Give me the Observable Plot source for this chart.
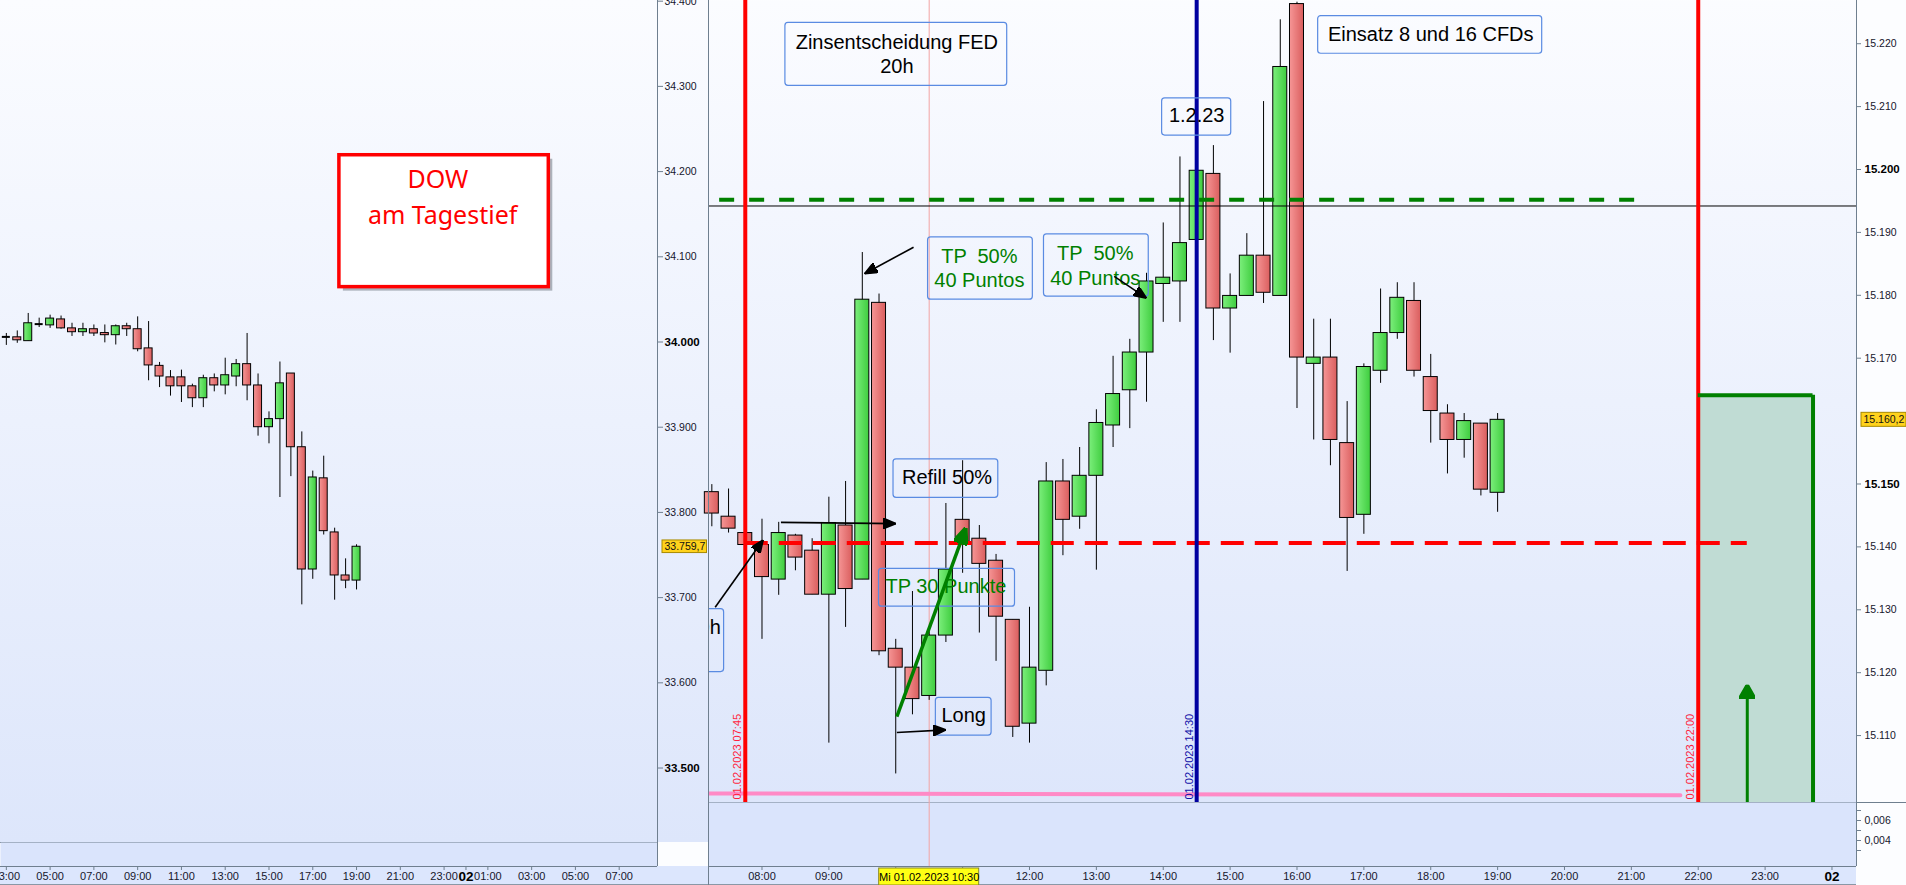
<!DOCTYPE html>
<html><head><meta charset="utf-8">
<script src="https://cdn.jsdelivr.net/npm/d3@7"></script>
<script src="https://cdn.jsdelivr.net/npm/@observablehq/plot@0.6"></script>
<style>
html,body{margin:0;padding:0;}
body{width:1906px;height:885px;position:relative;overflow:hidden;background:#fcfdff;}
.abs{position:absolute;}
.abs svg{display:block;}
</style></head>
<body>
<svg width="0" height="0" style="position:absolute">
 <defs>
  <linearGradient id="gUp" x1="0" y1="0" x2="1" y2="0"><stop offset="0" stop-color="#7cef7c"/><stop offset="1" stop-color="#3fcd3f"/></linearGradient>
  <linearGradient id="gDn" x1="0" y1="0" x2="1" y2="0"><stop offset="0" stop-color="#f69696"/><stop offset="1" stop-color="#da5e5e"/></linearGradient>
  <linearGradient id="gBg" x1="0" y1="0" x2="0" y2="1"><stop offset="0" stop-color="#fbfcff"/><stop offset="1" stop-color="#dde6fb"/></linearGradient>
 </defs>
</svg>
<div class="abs" style="left:0;top:0;width:708px;height:842px;background:linear-gradient(#fbfcff,#dde6fb)"></div>
<div class="abs" style="left:0;top:866px;width:1856px;height:18px;background:#dce6fd;border-bottom:1px solid #8a98a6"></div>
<div id="Lmain" class="abs" style="left:0;top:0;width:708px"></div>
<div id="Lsub" class="abs" style="left:0;top:842px;width:708px"></div>
<div id="Rmain" class="abs" style="left:708px;top:0;width:1198px"></div>
<div id="Rsub" class="abs" style="left:708px;top:802px;width:1198px"></div>
<script>
// ---------------- DATA ----------------
// DOW (left panel) – 30 minute candles, 1 Feb 2023
const dowTime  = ["03:00","03:30","04:00","04:30","05:00","05:30","06:00","06:30","07:00","07:30","08:00","08:30","09:00","09:30","10:00","10:30","11:00","11:30","12:00","12:30","13:00","13:30","14:00","14:30","15:00","15:30","16:00","16:30","17:00","17:30","18:00","18:30","19:00"];
const dowOpen  = [34006,34005.5,34001,34021,34019.5,34026.5,34016,34011.5,34015,34010.5,34008,34018.5,34015,33992.5,33972,33958.5,33958.5,33948,33934,33957.5,33949,33959.5,33974,33949,33900,33909.5,33963,33876.5,33733,33840,33776.5,33726,33720];
const dowHigh  = [34010,34013,34033.5,34028,34031.5,34030.5,34022,34022,34020,34020,34020,34022,34029.5,34024,33976,33966.5,33967,33950.5,33961,33962.5,33981,33979.5,34010,33962.5,33918,33976.5,33963,33894.5,33848.5,33866,33781.5,33745.5,33762];
const dowLow   = [33996,33998.5,34001,34017,34016,34015,34006.5,34006.5,34006.5,33999,33996.5,34006.5,33988.5,33954.5,33946.5,33936.5,33929,33923,33923,33941.5,33938,33947.5,33931,33889.5,33880.5,33817.5,33842,33691.5,33721.5,33773.5,33697,33710.5,33709];
const dowClose = [34006,34002,34022,34021,34027.5,34016,34011.5,34015,34010,34008,34018.5,34015,33991.5,33972.5,33959.5,33948,33948,33934,33957.5,33949,33961,33974,33949,33900,33909.5,33951.5,33876.5,33733,33841,33778,33726,33720,33759.7];
const dowLast = 33759.7;
const dowTicks = [33500,33600,33700,33800,33900,34000,34100,34200,34300,34400];
const dowBold  = [33500,34000];
const dowHours = ["03:00","05:00","07:00","09:00","11:00","13:00","15:00","17:00","19:00","21:00","23:00","02 01:00","02 03:00","02 05:00","02 07:00"];
const dowNoteBox  = ["18:13","02 03:47",34219.2,34064.4];
const dowNoteText = [["22:43",34189.9,"DOW"],["22:56",34147.3,"am Tagestief"]];

// DAX (right panel) – 15 minute candles, 1 Feb 2023
const daxTime  = ["07:15","07:30","07:45","08:00","08:15","08:30","08:45","09:00","09:15","09:30","09:45","10:00","10:15","10:30","10:45","11:00","11:15","11:30","11:45","12:00","12:15","12:30","12:45","13:00","13:15","13:30","13:45","14:00","14:15","14:30","14:45","15:00","15:15","15:30","15:45","16:00","16:15","16:30","16:45","17:00","17:15","17:30","17:45","18:00","18:15","18:30","18:45","19:00"];
const daxOpen  = [15148.7,15144.8,15142.2,15140.3,15134.8,15141.8,15139.4,15132.4,15143.4,15134.8,15178.8,15123.8,15120.8,15116.3,15125.9,15144.3,15141.3,15137.8,15128.4,15111.9,15120.3,15150.4,15144.8,15151.3,15159.3,15164.9,15170.9,15181.8,15182.2,15188.8,15199.3,15177.9,15179.9,15186.3,15179.9,15226.3,15169.1,15170.1,15156.5,15145.1,15168.0,15174.0,15179.1,15167.0,15161.2,15157.0,15159.6,15148.6];
const daxHigh  = [15149.9,15149.2,15142.6,15144.4,15143.9,15142.0,15141.3,15147.9,15150.4,15186.8,15180.2,15125.3,15132.9,15126.5,15146.9,15153.7,15143.4,15138.8,15128.4,15130.4,15153.4,15153.9,15155.8,15161.8,15170.3,15173.0,15183.5,15191.5,15202.0,15200.2,15203.8,15183.4,15189.8,15210.8,15223.8,15226.6,15176.2,15176.2,15163.1,15169.1,15181.0,15182.0,15182.0,15170.6,15162.6,15161.2,15159.6,15161.2];
const daxLow   = [15143.2,15142.2,15140.1,15125.3,15132.3,15136.2,15132.4,15108.8,15127.2,15134.8,15122.7,15103.9,15113.3,15115.6,15124.8,15135.8,15126.3,15121.8,15109.7,15108.8,15117.9,15138.6,15142.8,15136.3,15155.8,15158.8,15163.0,15175.7,15175.7,15188.5,15172.8,15170.8,15179.9,15178.7,15179.9,15162.0,15157.0,15152.9,15136.1,15142.0,15166.0,15173.0,15167.0,15156.5,15151.6,15154.1,15148.1,15145.5];
const daxClose = [15145.3,15142.9,15140.3,15135.2,15142.2,15138.3,15132.4,15143.8,15133.3,15179.3,15123.4,15120.8,15115.8,15125.9,15136.4,15140.8,15137.3,15128.9,15111.4,15120.8,15150.4,15144.3,15151.3,15159.7,15164.3,15170.9,15182.2,15182.8,15188.3,15199.8,15177.9,15179.9,15186.3,15180.4,15216.3,15170.1,15170.1,15157.0,15144.6,15168.6,15174.0,15179.6,15168.0,15161.6,15157.0,15160.0,15149.1,15160.2];
const daxLast = 15160.2;
const daxTicks = [15110,15120,15130,15140,15150,15170,15180,15190,15200,15210,15220];
const daxBold  = [15150,15200];
const daxHours = ["08:00","09:00","12:00","13:00","14:00","15:00","16:00","17:00","18:00","19:00","20:00","21:00","22:00","23:00"];
const daxHiddenHours = ["10:00","11:00"];
const subTicks  = [0.003,0.004,0.005,0.006,0.007];
const subLabels = [0.004,0.006];
const dayMark = "02 00:00";
const dayLabel = "01.02.2023";
const cursorTime = "10:30";
const cursorLabel = "Mi 01.02.2023 10:30";

// annotations (time, price)
const redLines  = ["07:45","22:00"];
const blueLines = ["14:30"];
const blackLevel = 15194.2;
const greenLevel = [15195.2,"07:22","21:03"];
const redLevel   = [15140.6,"07:45","22:44"];
const pinkLine   = [["07:12",15100.8],["21:44",15100.5]];
const tpZone     = ["22:00","23:43",15164.1];
const noteBoxes  = [
  ["08:21","11:40",15223.3,15213.3],
  ["13:59","15:01",15211.3,15205.4],
  ["10:29","12:03",15189.2,15179.3],
  ["12:13","13:47",15189.7,15179.8],
  ["16:19","19:40",15224.4,15218.4],
  ["09:58","11:32",15153.9,15147.8],
  ["09:45","11:47",15136.5,15130.5],
  ["10:36","11:26",15116.0,15110.0],
  ["06:30","07:26",15130.1,15120.1]
];
const blackNotes = [
  ["10:01",15220.1,"Zinsentscheidung FED"],
  ["10:01",15216.3,"20h"],
  ["14:30",15208.5,"1.2.23"],
  ["18:00",15221.5,"Einsatz 8 und 16 CFDs"],
  ["10:46",15151.0,"Refill 50%"],
  ["11:01",15113.15,"Long"]
];
const greenNotes = [
  ["11:15",15186.2,"TP  50%"],["11:15",15182.3,"40 Puntos"],
  ["12:59",15186.7,"TP  50%"],["12:59",15182.7,"40 Puntos"],
  ["10:45",15133.7,"TP 30 Punkte"]
];
const clippedNote = [["07:23",15127.2,"20h"]];
const blackArrows = [
  ["10:16",15187.65,"09:32",15183.42],
  ["13:16",15183.0,"13:45",15179.54],
  ["07:18",15130.4,"08:01",15141.1],
  ["08:17",15143.9,"10:00",15143.7],
  ["10:01",15110.5,"10:45",15110.9]
];
const greenArrow = [["10:01",15113.0,"11:02",15142.6]];
const tpArrow    = [["22:44",15099.4,"22:44",15118.1]];

// ---------------- HELPERS ----------------
const F = "'Liberation Sans', Arial, Helvetica, sans-serif";
const FN = "'Noto Sans', 'Open Sans', sans-serif";
const T = (s) => { const p = s.trim().split(" "); const day = p.length > 1 ? +p[0] : 1; const [h, m] = p[p.length - 1].split(":").map(Number); return new Date(2023, 1, day, h, m); };
const de = d3.formatLocale({decimal: ",", thousands: ".", grouping: [3], currency: ["", ""]});
const fmtInt = de.format(",.0f"), fmt1 = de.format(",.1f"), fmt3 = de.format(",.3f");
const fmtHM = d3.timeFormat("%H:%M");
const STYLE = {background: "transparent", overflow: "visible", maxWidth: "none"};
const AX = "#6f7f8f", TXT = "#16162c";

function head(len, wid, back) {
  return (color, context) => {
    const doc = (context && context.document) || document;
    const ns = "http://www.w3.org/2000/svg";
    const m = doc.createElementNS(ns, "marker");
    m.setAttribute("viewBox", `0 ${-wid / 2} ${len} ${wid}`);
    m.setAttribute("markerWidth", len);
    m.setAttribute("markerHeight", wid);
    m.setAttribute("markerUnits", "userSpaceOnUse");
    m.setAttribute("refX", len - back);
    m.setAttribute("refY", 0);
    m.setAttribute("orient", "auto");
    const p = doc.createElementNS(ns, "path");
    p.setAttribute("d", `M0,${-wid / 2}L${len},0L0,${wid / 2}Z`);
    p.setAttribute("fill", color);
    m.appendChild(p);
    return m;
  };
}
function arrows(data, opts, len, wid, back) {
  const base = {x1: d => T(d[0]), y1: d => d[1], x2: d => T(d[2]), y2: d => d[3], ...opts};
  try { return Plot.link(data, {...base, markerEnd: head(len, wid, back)}); }
  catch (e) { return Plot.arrow(data, {...base, headLength: len}); }
}
function candleMarks(rows, hw) {
  const x1 = d => new Date(+d.t - hw), x2 = d => new Date(+d.t + hw);
  return [
    Plot.ruleX(rows, {x: "t", y1: "l", y2: "h", stroke: "#000", strokeWidth: 1}),
    Plot.rect(rows.filter(d => d.c > d.o), {x1, x2, y1: "o", y2: "c", fill: "url(#gUp)", stroke: "#000", strokeWidth: 1}),
    Plot.rect(rows.filter(d => d.c < d.o), {x1, x2, y1: "o", y2: "c", fill: "url(#gDn)", stroke: "#000", strokeWidth: 1}),
    Plot.ruleY(rows.filter(d => d.c === d.o), {y: "o", x1, x2, stroke: "#000", strokeWidth: 2})
  ];
}
function priceAxis(ticks, bold, fmt, size, pad) {
  return [
    Plot.axisY(ticks.filter(v => !bold.includes(v)), {anchor: "right", tickSize: size, tickPadding: pad, tickFormat: fmt, fontSize: 10.5, fontFamily: F, fill: TXT, stroke: AX, label: null}),
    Plot.axisY(bold, {anchor: "right", tickSize: size, tickPadding: pad, tickFormat: fmt, fontSize: 11.5, fontWeight: "bold", fontFamily: F, fill: "#000", stroke: AX, label: null})
  ];
}
function lastLabel(xEdge, v, left, right, half) {
  return [
    Plot.rect([v], {x1: () => xEdge, x2: () => xEdge, y1: d => d, y2: d => d, insetLeft: left, insetRight: -right, insetTop: -half, insetBottom: -half, fill: "#ffd21c", stroke: "#a88a00", strokeWidth: 1}),
    Plot.text([v], {x: () => xEdge, y: d => d, text: d => fmt1(d), dx: left + 2, textAnchor: "start", fontSize: 10.5, fontFamily: F, fill: "#111"})
  ];
}
function timeAxis(hours, hidden = []) {
  return [
    Plot.axisX(hours.map(T), {anchor: "bottom", tickSize: 4, tickPadding: 2, tickFormat: fmtHM, fontSize: 11, fontFamily: F, fill: TXT, stroke: AX, label: null}),
    Plot.axisX(hidden.map(T), {anchor: "bottom", tickSize: 4, tickFormat: () => "", stroke: AX, label: null}),
    Plot.axisX([T(dayMark)], {anchor: "bottom", tickSize: 4, tickPadding: 1, tickFormat: () => dayMark.split(" ")[0], fontSize: 13.5, fontWeight: "bold", fontFamily: F, fill: "#000", stroke: AX, label: null})
  ];
}

// ---------------- LEFT PANEL (DOW) ----------------
const LX = [T("02:44"), T("02 08:45")];
const LY = [33412.6, 34400.8];
const hwL = 4 * (+LX[1] - +LX[0]) / 657;
const dow = dowTime.map((t, i) => ({t: T(t), o: dowOpen[i], h: dowHigh[i], l: dowLow[i], c: dowClose[i]}));
const boxAcc = {x1: d => T(d[0]), x2: d => T(d[1]), y1: d => d[2], y2: d => d[3]};

document.getElementById("Lmain").append(Plot.plot({
  width: 708, height: 842, marginLeft: 0, marginRight: 51, marginTop: 0, marginBottom: 0,
  style: STYLE,
  x: {type: "time", domain: LX, axis: null, label: null},
  y: {domain: LY, axis: null, label: null},
  marks: [
    ...candleMarks(dow, hwL),
    Plot.rect([dowNoteBox], {...boxAcc, fill: "#7d838d", fillOpacity: 0.6, dx: 4, dy: 4}),
    Plot.rect([dowNoteBox], {...boxAcc, fill: "#ffffff", stroke: "#ff0000", strokeWidth: 3.5}),
    Plot.text(dowNoteText, {x: d => T(d[0]), y: d => d[1], text: d => d[2], fill: "#ff0000", fontSize: 25, fontFamily: FN}),
    Plot.ruleX([LX[1]], {stroke: AX}),
    Plot.ruleY([LY[0]], {stroke: AX}),
    ...priceAxis(dowTicks, dowBold, fmtInt, 5, 2),
    ...lastLabel(LX[1], dowLast, 5, 49.5, 6.3)
  ]
}));

document.getElementById("Lsub").append(Plot.plot({
  width: 708, height: 43, marginLeft: 0, marginRight: 51, marginTop: 0, marginBottom: 19,
  style: STYLE,
  x: {type: "time", domain: LX, axis: null, label: null},
  y: {domain: [0, 1], axis: null, label: null},
  marks: [
    Plot.frame({fill: "#dae4fc"}),
    Plot.ruleX([LX[1]], {stroke: AX}),
    Plot.ruleY([0], {stroke: AX}),
    ...timeAxis(dowHours)
  ]
}));

// ---------------- RIGHT PANEL (DAX) ----------------
const RX = [T("07:12"), T("02 00:22")];
const RY = [15099.36, 15226.87];
const hwR = 7 * (+RX[1] - +RX[0]) / 1148;
const dax = daxTime.map((t, i) => ({t: T(t), o: daxOpen[i], h: daxHigh[i], l: daxLow[i], c: daxClose[i]}));
const vLabel = (lines, color) => Plot.text(lines, {x: d => T(d), y: () => RY[0], text: d => dayLabel + " " + d, rotate: -90, textAnchor: "start", lineAnchor: "middle", dx: -7.5, dy: -3, fill: color, fontSize: 11, fontFamily: F});
const noteText = (data, color, extra = {}) => Plot.text(data, {x: d => T(d[0]), y: d => d[1], text: d => d[2], fill: color, fontSize: 20, fontFamily: F, lineAnchor: "middle", ...extra});

document.getElementById("Rmain").append(Plot.plot({
  width: 1198, height: 802, marginLeft: 0, marginRight: 50, marginTop: 0, marginBottom: 0,
  style: STYLE,
  x: {type: "time", domain: RX, axis: null, label: null},
  y: {domain: RY, axis: null, label: null},
  marks: [
    Plot.frame({fill: "url(#gBg)"}),
    Plot.rect([tpZone], {x1: d => T(d[0]), x2: d => T(d[1]), y1: () => RY[0], y2: d => d[2], fill: "#c0dcd4"}),
    Plot.ruleX([T(cursorTime)], {stroke: "#f2a4a4", strokeWidth: 1}),
    ...candleMarks(dax, hwR),
    Plot.ruleY([blackLevel], {stroke: "#000", strokeWidth: 1}),
    Plot.ruleY([greenLevel], {y: d => d[0], x1: d => T(d[1]), x2: d => T(d[2]), stroke: "#008000", strokeWidth: 4, strokeDasharray: "15,15"}),
    Plot.ruleY([redLevel], {y: d => d[0], x1: d => T(d[1]), x2: d => T(d[2]), stroke: "#ff0000", strokeWidth: 4, strokeDasharray: "23,11"}),
    Plot.line(pinkLine, {x: d => T(d[0]), y: d => d[1], stroke: "#ff8ac6", strokeWidth: 4, clip: true}),
    Plot.ruleX(blueLines.map(T), {stroke: "#0000a0", strokeWidth: 4}),
    Plot.ruleX(redLines.map(T), {stroke: "#ff0000", strokeWidth: 4}),
    Plot.ruleY([tpZone], {y: d => d[2], x1: d => T(d[0]), x2: d => T(d[1]), stroke: "#008000", strokeWidth: 4}),
    Plot.ruleX([tpZone], {x: d => T(d[1]), y1: () => RY[0], y2: d => d[2], stroke: "#008000", strokeWidth: 4}),
    vLabel(redLines, "#ff1f3f"),
    vLabel(blueLines, "#1010a8"),
    Plot.rect(noteBoxes, {...boxAcc, fill: "none", stroke: "#5a8be2", strokeWidth: 1.2, rx: 3, clip: true}),
    noteText(blackNotes, "#000"),
    noteText(greenNotes, "#008000"),
    noteText(clippedNote, "#000", {textAnchor: "end", clip: true}),
    arrows(blackArrows, {stroke: "#000", strokeWidth: 1.6}, 13, 11, 0),
    arrows(greenArrow, {stroke: "#008000", strokeWidth: 3.5}, 17, 14, 3),
    arrows(tpArrow, {stroke: "#008000", strokeWidth: 3}, 14, 16, 0),
    Plot.ruleX([RX[0]], {stroke: AX}),
    Plot.ruleX([RX[1]], {stroke: AX}),
    Plot.ruleY([RY[0]], {stroke: AX, insetRight: -50}),
    ...priceAxis(daxTicks, daxBold, fmtInt, 4, 4),
    ...lastLabel(RX[1], daxLast, 5, 50, 7)
  ]
}));

const SUB = [0.0014, 0.0078];
document.getElementById("Rsub").append(Plot.plot({
  width: 1198, height: 83, marginLeft: 0, marginRight: 50, marginTop: 0, marginBottom: 19,
  style: STYLE,
  x: {type: "time", domain: RX, axis: null, label: null},
  y: {domain: SUB, axis: null, label: null},
  marks: [
    Plot.frame({fill: "#dae4fc"}),
    Plot.ruleX([T(cursorTime)], {stroke: "#f2a4a4", strokeWidth: 1}),
    Plot.ruleX([RX[0]], {stroke: AX, insetBottom: -19}),
    Plot.ruleX([RX[1]], {stroke: AX}),
    Plot.ruleY([SUB[0]], {stroke: AX}),
    Plot.axisY(subTicks, {anchor: "right", tickSize: 4, tickFormat: () => "", stroke: AX, label: null}),
    Plot.axisY(subLabels, {anchor: "right", tickSize: 4, tickPadding: 4, tickFormat: fmt3, fontSize: 10.5, fontFamily: F, fill: TXT, stroke: AX, label: null}),
    ...timeAxis(daxHours, daxHiddenHours),
    Plot.rect([T(cursorTime)], {x1: d => d, x2: d => d, y1: () => SUB[0], y2: () => SUB[0], insetLeft: -50, insetRight: -50, insetTop: 2, insetBottom: -19, fill: "#ffff14", stroke: "#8a8a20", strokeWidth: 1}),
    Plot.text([T(cursorTime)], {x: d => d, frameAnchor: "bottom", dy: 11, text: () => cursorLabel, fontSize: 11, fontFamily: F, fill: "#000", lineAnchor: "middle"})
  ]
}));
</script>
</body></html>
